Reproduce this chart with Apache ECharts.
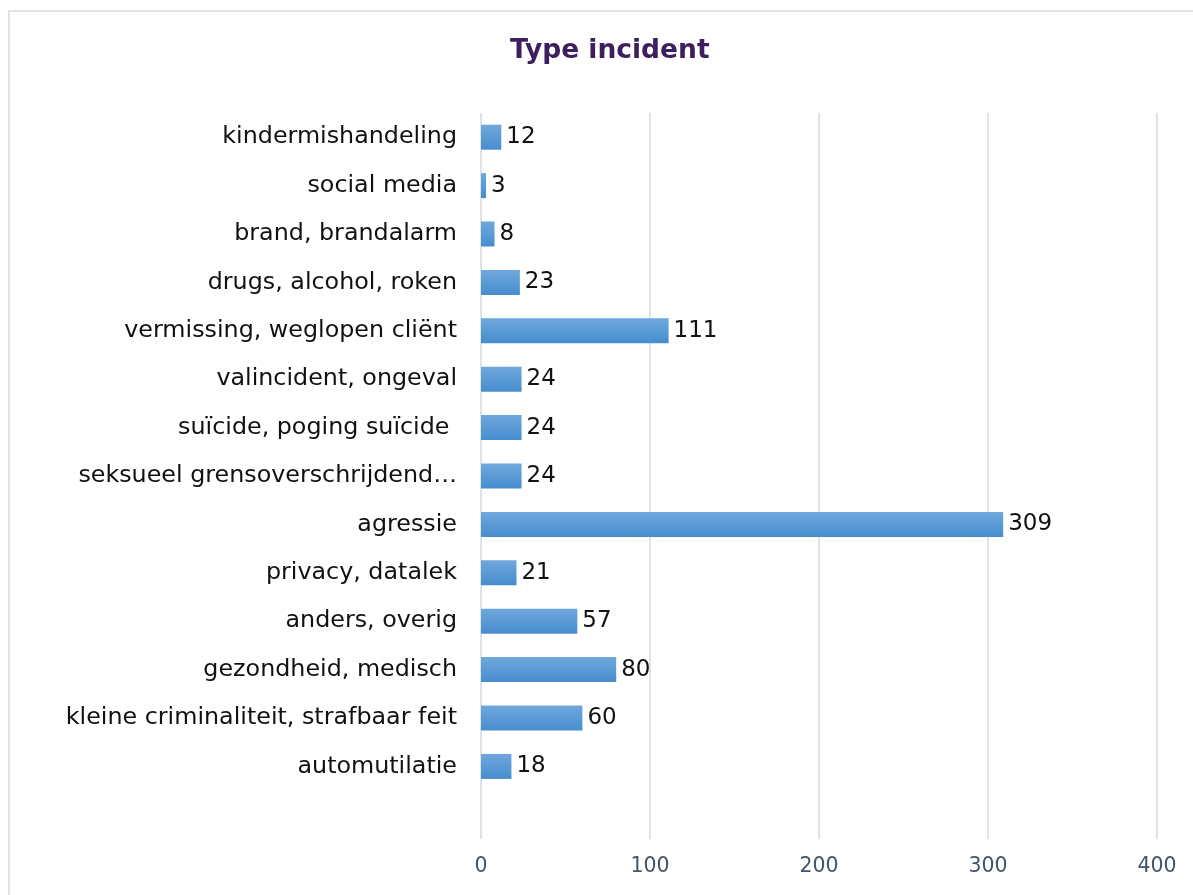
<!DOCTYPE html>
<html>
<head>
<meta charset="utf-8">
<script src="https://cdn.jsdelivr.net/npm/echarts@6/dist/echarts.min.js"></script>
<style>
  html, body { margin: 0; padding: 0; background: #fff; overflow: hidden; }
  #chart { width: 1193px; height: 895px; }
</style>
</head>
<body>
<div id="chart"></div>
<script>
// Incident categories, listed bottom to top (category axis runs upward); the
// leading blank entry keeps a free row under the last bar.
const categories = [
  '',
  'automutilatie',
  'kleine criminaliteit, strafbaar feit',
  'gezondheid, medisch',
  'anders, overig',
  'privacy, datalek',
  'agressie',
  'seksueel grensoverschrijdend…',
  'suïcide, poging suïcide ',
  'valincident, ongeval',
  'vermissing, weglopen cliënt',
  'drugs, alcohol, roken',
  'brand, brandalarm',
  'social media',
  'kindermishandeling'
];
const counts = [null, 18, 60, 80, 57, 21, 309, 24, 24, 24, 111, 23, 8, 3, 12];
const xTicks = [0, 100, 200, 300, 400];

const FONT = '"DejaVu Sans", Verdana, sans-serif';
const chart = echarts.init(document.getElementById('chart'));

chart.setOption({
  animation: false,
  backgroundColor: '#ffffff',
  title: {
    text: 'Type incident',
    left: 505,
    top: 33,
    textStyle: { fontFamily: FONT, fontSize: 26.5, fontWeight: 'bold', color: '#3d1f5e' }
  },
  // chart frame: top and left edges of the surrounding border
  graphic: [{
    type: 'polyline',
    shape: { points: [[9, 900], [9, 11], [1200, 11]] },
    style: { fill: 'none', stroke: '#dfe3ea', lineWidth: 2 },
    silent: true
  }],
  grid: { left: 481, right: 36, top: 113, bottom: 56, containLabel: false },
  xAxis: {
    type: 'value',
    min: xTicks[0],
    max: xTicks[xTicks.length - 1],
    interval: 100,
    axisLine: { show: false },
    axisTick: { show: false },
    splitLine: { show: true, lineStyle: { color: '#dfe3ea', width: 2 } },
    axisLabel: { fontFamily: FONT, fontSize: 20.5, color: '#44546a', margin: 17 }
  },
  yAxis: {
    type: 'category',
    data: categories,
    axisLine: { show: false },
    axisTick: { show: false },
    axisLabel: { fontFamily: FONT, fontSize: 23.8, color: '#111111', margin: 24 }
  },
  series: [{
    type: 'bar',
    data: counts,
    barWidth: 25,
    itemStyle: {
      color: new echarts.graphic.LinearGradient(0, 0, 0, 1, [
        { offset: 0, color: '#6fa8dd' },
        { offset: 1, color: '#468dce' }
      ])
    },
    label: {
      show: true,
      position: 'right',
      distance: 5,
      fontFamily: FONT,
      fontSize: 23,
      color: '#111111'
    }
  }]
});
</script>
</body>
</html>
